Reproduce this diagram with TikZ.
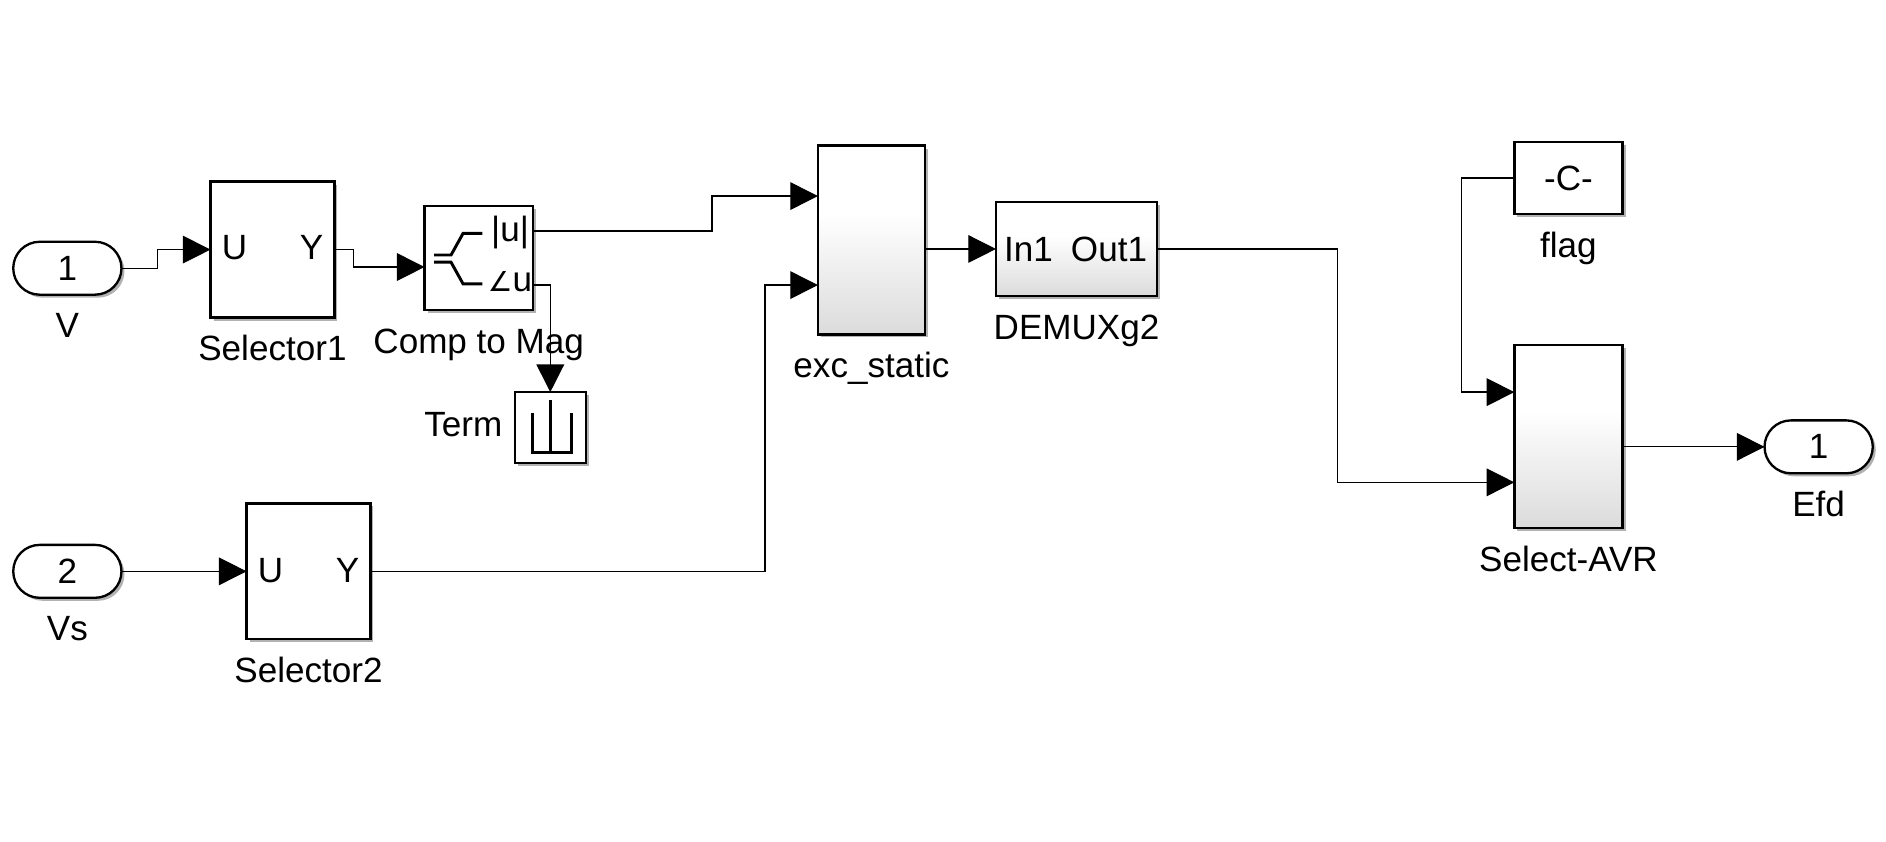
\documentclass[tikz,border=0pt]{standalone}
\usepackage{fontspec}
\setmainfont{Liberation Sans}
\newfontfamily\anglefont{DejaVu Sans}
\usetikzlibrary{arrows.meta,shadows}

\pgfdeclareverticalshading{blockgrad}{100bp}{color(0bp)=(black!14); color(25bp)=(black!14); color(57bp)=(white); color(100bp)=(white)}

\tikzset{
    sig/.style={line width=0.6pt,-{Triangle[length=0.46cm,width=0.46cm]}},
    icon/.style={line width=1.4pt},
    blocktext/.style={font=\fontsize{16.6}{18}\selectfont,text=black},
    blocklabel/.style={blocktext,inner sep=0pt,text height=11.7pt,text depth=3.4pt,label distance=0.3cm},
    blockbox/.style={draw,line width=1.1pt,fill=white,inner sep=0pt,outer sep=0pt,blocktext,
        drop shadow={shadow xshift=0.05cm,shadow yshift=-0.05cm,opacity=0.3,fill=black}},
    gradbox/.style={blockbox,shade,shading=blockgrad},
    portbox/.style={blockbox,minimum width=1.8cm,minimum height=0.88cm,rounded corners=0.44cm},
}

\begin{document}
\begin{tikzpicture}[x=0.02cm,y=-0.02cm]
        \useasboundingbox (0,0) rectangle (1568,700);

        \node[portbox,label={[blocklabel]below:V}]   (portV)  at (56,223)    {1};
        \node[portbox,label={[blocklabel]below:Vs}]  (portVs) at (56,475)    {2};
        \node[portbox,label={[blocklabel]below:Efd}] (portE)  at (1512,371.5) {1};

        \node[blockbox,minimum width=2.06cm,minimum height=2.26cm,label={[blocklabel]below:Selector1}] (sel1) at (226.5,207.5) {};
        \node[blockbox,minimum width=2.06cm,minimum height=2.26cm,label={[blocklabel]below:Selector2}] (sel2) at (256.5,475) {};
        \node[blockbox,minimum width=1.8cm,minimum height=1.74cm,label={[blocklabel]below:Comp to Mag}] (comp) at (398,214.5) {};
        \node[blockbox,minimum width=1.18cm,minimum height=1.18cm,label={[blocklabel,label distance=0.2cm]left:Term}] (term) at (457.5,355.5) {};
        \node[gradbox,minimum width=1.78cm,minimum height=3.14cm,label={[blocklabel]below:exc\_static}] (exc) at (724.5,199.5) {};
        \node[gradbox,minimum width=2.68cm,minimum height=1.56cm,label={[blocklabel]below:DEMUXg2}] (demux) at (895,207) {};
        \node[blockbox,minimum width=1.8cm,minimum height=1.2cm,label={[blocklabel]below:flag}] (flag) at (1304,148) {-C-};
        \node[gradbox,minimum width=1.8cm,minimum height=3.04cm,label={[blocklabel]below:Select-AVR}] (avr) at (1304,363) {};

        \node[blocktext] (sel1U) at (195,206) {U};
        \node[blocktext] (sel1Y) at (259,206) {Y};
        \node[blocktext] (sel2U) at (225,474) {U};
        \node[blocktext] (sel2Y) at (289,474) {Y};
        \node[blocktext] (compA) at (424,193) {|u|};
        \node[blocktext] (compB) at (424,234) {{\anglefont\fontsize{13}{13}\selectfont ∠}u};
        \node[blocktext] (demuxI) at (855,207) {In1};
        \node[blocktext] (demuxO) at (922,207) {Out1};

        \draw[icon] (361,212) -- (375,212) -- (385,194) -- (401,194);
        \draw[icon] (361,218) -- (375,218) -- (385,236) -- (401,236);
        \draw[icon] (443,343) |- (475,376.5) -- (475,343);
        \draw[icon] (457.5,332.5) -- (457.5,376.5);

        \coordinate (compIn)  at (353,222);
        \coordinate (compMag) at (443,192);
        \coordinate (compAng) at (443,237);
        \coordinate (excIn1)  at (680,163);
        \coordinate (excIn2)  at (680,237);
        \coordinate (excOut)  at (769,207);
        \coordinate (avrIn1)  at (1259,326);
        \coordinate (avrIn2)  at (1259,401);
        \coordinate (avrOut)  at (1349,371.5);

        \draw[sig] (portV.east) -- ++(30,0) |- (sel1.west);
        \draw[sig] (sel1.east) -- ++(16,0) |- (compIn);
        \draw[sig] (compMag) -- ++(149,0) |- (excIn1);
        \draw[sig] (compAng) -| (term.north);
        \draw[sig] (portVs.east) -- (sel2.west);
        \draw[sig] (sel2.east) -- ++(328,0) |- (excIn2);
        \draw[sig] (excOut) -- (demux.west);
        \draw[sig] (demux.east) -- ++(150,0) |- (avrIn2);
        \draw[sig] (flag.west) -- ++(-44,0) |- (avrIn1);
        \draw[sig] (avrOut) -- (portE.west);
    \end{tikzpicture}
\end{document}
